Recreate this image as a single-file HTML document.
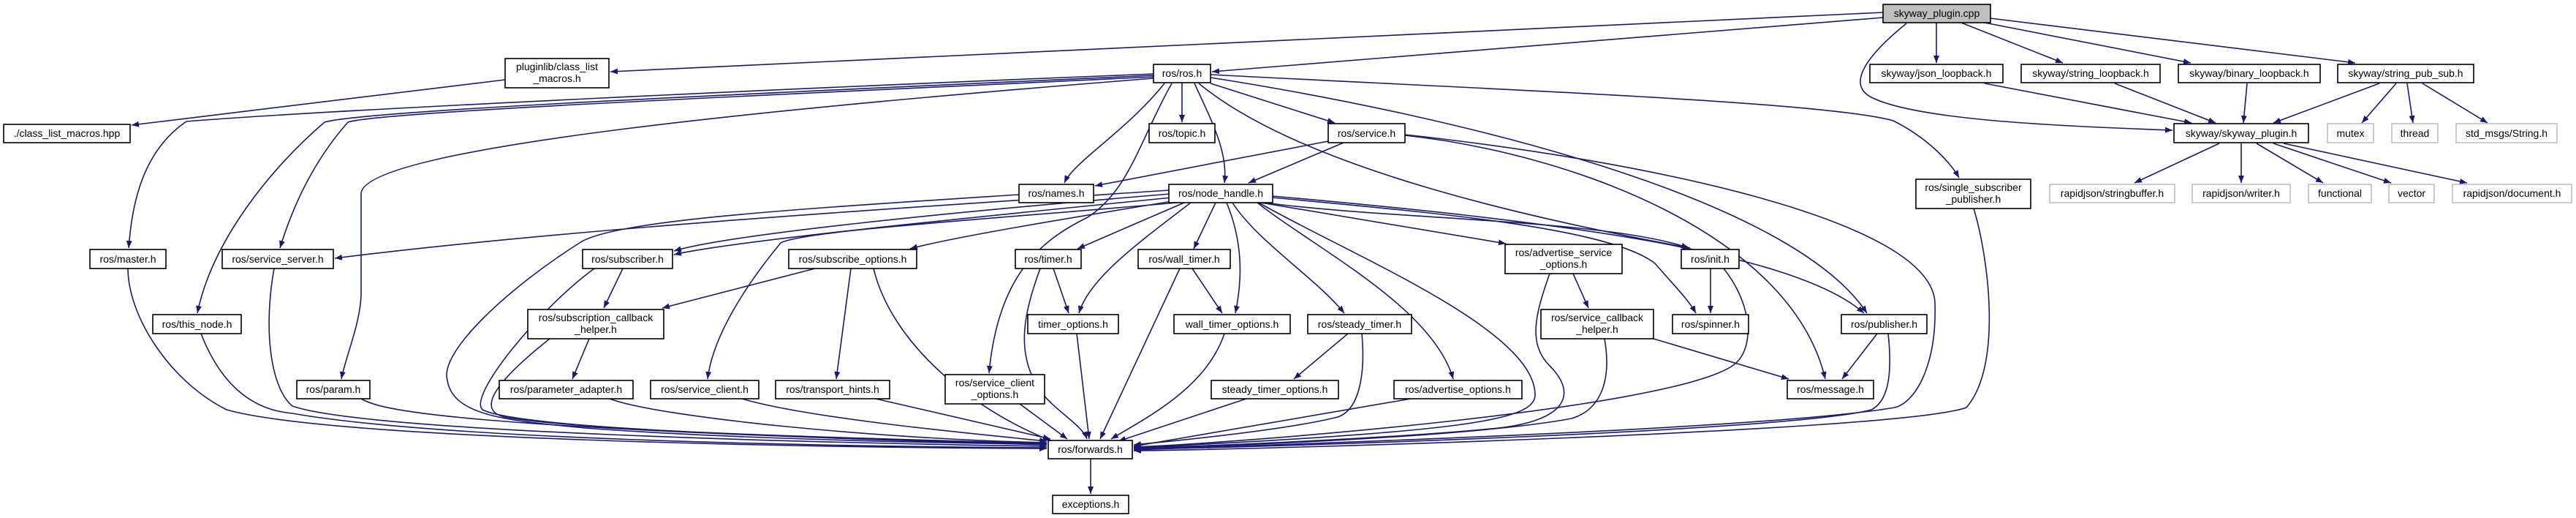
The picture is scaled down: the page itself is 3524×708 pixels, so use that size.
<!DOCTYPE html>
<html><head><meta charset="utf-8"><style>
html,body{margin:0;padding:0;background:#fff;}
svg{display:block;}
text{font-family:"Liberation Sans",sans-serif;font-size:14px;fill:#000;}
.e{fill:none;stroke:#191970;stroke-width:1.6;}
.n{fill:#fff;stroke:#000;stroke-width:1.6;}
.g{fill:#fff;stroke:#bfbfbf;stroke-width:1.6;}
.s{fill:#888;}
</style></head><body>
<svg width="3524" height="708" viewBox="0 0 3524 708" xmlns="http://www.w3.org/2000/svg">
<defs><marker id="a" viewBox="0 0 10 8" refX="10" refY="4" markerWidth="10" markerHeight="8" markerUnits="userSpaceOnUse" orient="auto"><path d="M0,0 L10,4 L0,8 z" fill="#191970"/></marker></defs>
<g marker-end="url(#a)">
<path class="e" d="M2576,17 L835,98"/>
<path class="e" d="M2576,24 L1658,98"/>
<path class="e" d="M2649,31 L2649,86"/>
<path class="e" d="M2683,31 L2822,86"/>
<path class="e" d="M2715,31 L2997,86"/>
<path class="e" d="M2723,25 L3222,86"/>
<path class="e" d="M2608,32 C2555,75 2525,115 2560,133 C2620,163 2800,172 2972,178"/>
<path class="e" d="M2715,114 L2998,168"/>
<path class="e" d="M2893,114 L3031,168"/>
<path class="e" d="M3074,114 L3069,168"/>
<path class="e" d="M3255,114 L3110,168"/>
<path class="e" d="M3278,114 L3231,168"/>
<path class="e" d="M3293,114 L3301,168"/>
<path class="e" d="M3314,114 L3403,168"/>
<path class="e" d="M3036,196 L2920,250"/>
<path class="e" d="M3066,196 L3066,250"/>
<path class="e" d="M3087,196 L3178,250"/>
<path class="e" d="M3110,196 L3271,250"/>
<path class="e" d="M3124,196 L3375,250"/>
<path class="e" d="M691,109 L180,171"/>
<path class="e" d="M1578,101 C1100,120 450,150 255,166 C190,210 180,290 176,339"/>
<path class="e" d="M1578,103 C1100,125 500,150 444,167 C370,230 290,330 270,428"/>
<path class="e" d="M1578,105 C1100,128 520,152 476,167 C420,230 395,300 383,339"/>
<path class="e" d="M1578,107 C1100,145 494,200 494,265 L494,400 C494,440 472,490 467,518"/>
<path class="e" d="M1617,113 L1617,167"/>
<path class="e" d="M1593,114 C1540,180 1470,220 1456,250"/>
<path class="e" d="M1634,114 C1660,170 1680,210 1675,250"/>
<path class="e" d="M1656,114 L1826,168"/>
<path class="e" d="M1603,114 C1560,190 1545,260 1488,297 C1420,330 1365,380 1353,510"/>
<path class="e" d="M1656,102 C2100,125 2500,140 2590,165 C2640,190 2670,225 2680,243"/>
<path class="e" d="M1656,106 C2000,160 2450,270 2554,428"/>
<path class="e" d="M1640,114 C1780,230 2100,300 2312,339"/>
<path class="e" d="M1817,193 L1498,254"/>
<path class="e" d="M1838,195 L1708,250"/>
<path class="e" d="M1922,185 C2150,210 2450,320 2497,518"/>
<path class="e" d="M1922,184 C2250,220 2640,300 2647,413 C2650,500 2620,550 2592,557 C2400,590 1600,612 1551,615"/>
<path class="e" d="M2700,285 C2720,350 2740,500 2690,557 C2600,590 1700,615 1551,616"/>
<path class="e" d="M2583,456 C2590,520 2580,550 2560,560 C2450,590 1700,612 1551,614"/>
<path class="e" d="M2568,456 L2520,518"/>
<path class="e" d="M1394,266 C1100,285 850,300 796,330 C700,390 600,480 612,520 C620,570 700,575 800,585 C1000,600 1300,606 1432,607"/>
<path class="e" d="M1599,260 C1300,280 800,310 458,353"/>
<path class="e" d="M1601,265 C1300,290 1000,320 922,343"/>
<path class="e" d="M1603,270 C1300,300 1000,330 922,348"/>
<path class="e" d="M1604,275 C1450,300 1300,325 1245,340"/>
<path class="e" d="M1610,277 C1350,300 1100,315 1068,332 C1020,390 975,460 968,518"/>
<path class="e" d="M1620,277 L1474,340"/>
<path class="e" d="M1629,277 C1560,330 1490,380 1476,428"/>
<path class="e" d="M1663,277 L1633,340"/>
<path class="e" d="M1678,277 C1700,330 1700,380 1690,428"/>
<path class="e" d="M1686,277 C1720,330 1800,380 1839,428"/>
<path class="e" d="M1720,277 C1800,340 1960,420 1988,518"/>
<path class="e" d="M1722,277 C1850,350 2100,450 2100,540 C2100,575 2000,590 1551,612"/>
<path class="e" d="M1725,277 L2060,333"/>
<path class="e" d="M1730,277 C1900,300 2200,300 2310,339"/>
<path class="e" d="M1741,270 C1950,290 2200,310 2264,360 C2290,390 2310,410 2320,428"/>
<path class="e" d="M1741,268 C2100,300 2450,340 2550,428"/>
<path class="e" d="M2262,463 L2447,518"/>
<path class="e" d="M2195,463 C2205,520 2190,560 2150,572 C2000,600 1600,612 1551,613"/>
<path class="e" d="M2152,374 L2173,421"/>
<path class="e" d="M2120,374 C2100,430 2090,470 2120,500 C2160,540 2140,575 2050,585 C1900,600 1600,612 1551,612"/>
<path class="e" d="M2340,367 L2340,428"/>
<path class="e" d="M2358,367 C2400,420 2400,480 2370,500 C2280,560 1700,605 1551,611"/>
<path class="e" d="M1441,367 L1462,428"/>
<path class="e" d="M1423,367 C1400,430 1390,480 1420,530 C1440,560 1480,580 1487,600"/>
<path class="e" d="M1473,456 L1490,600"/>
<path class="e" d="M1631,367 L1672,428"/>
<path class="e" d="M1614,367 L1505,600"/>
<path class="e" d="M1675,456 C1650,530 1570,570 1520,600"/>
<path class="e" d="M1844,456 L1770,518"/>
<path class="e" d="M1863,456 C1868,510 1860,560 1830,570 C1750,590 1580,605 1551,608"/>
<path class="e" d="M1705,545 L1530,603"/>
<path class="e" d="M1930,545 L1551,610"/>
<path class="e" d="M1395,552 L1460,600"/>
<path class="e" d="M1492,627 L1492,675"/>
<path class="e" d="M175,367 C175,430 230,520 310,560 C450,600 1100,612 1432,613"/>
<path class="e" d="M275,456 C300,520 340,560 400,565 C600,600 1100,610 1432,612"/>
<path class="e" d="M375,367 C360,450 370,530 400,555 C500,590 1100,605 1432,610"/>
<path class="e" d="M494,545 C520,560 600,585 1432,608"/>
<path class="e" d="M813,367 C740,420 640,540 660,560 C720,590 1200,600 1432,607"/>
<path class="e" d="M852,367 L826,421"/>
<path class="e" d="M1115,367 L906,421"/>
<path class="e" d="M1164,367 L1144,518"/>
<path class="e" d="M1195,367 C1220,470 1330,560 1437,602"/>
<path class="e" d="M806,463 L783,518"/>
<path class="e" d="M752,463 C680,520 650,560 690,570 C800,590 1200,600 1432,606"/>
<path class="e" d="M834,545 C900,570 1200,600 1432,605"/>
<path class="e" d="M1015,545 C1100,570 1300,590 1432,603"/>
<path class="e" d="M1198,545 L1437,600"/>
</g>
<g>
<rect x="2576" y="6" width="147" height="25" fill="#bfbfbf" stroke="#000" stroke-width="1.6"/><text x="2649.5" y="23" text-anchor="middle">skyway_plugin.cpp</text>
<rect class="n" x="691" y="80" width="142" height="40"/><text x="762" y="96" text-anchor="middle">pluginlib/class_list</text><text x="762" y="112" text-anchor="middle">_macros.h</text>
<rect class="n" x="5" y="170" width="173" height="25"/><text x="91.5" y="187" text-anchor="middle">./class_list_macros.hpp</text>
<rect class="n" x="1578" y="88" width="78" height="25"/><text x="1617" y="105" text-anchor="middle">ros/ros.h</text>
<rect class="n" x="1572" y="169" width="90" height="26"/><text x="1617" y="187" text-anchor="middle">ros/topic.h</text>
<rect class="n" x="1817" y="169" width="105" height="26"/><text x="1869.5" y="187" text-anchor="middle">ros/service.h</text>
<rect class="n" x="1394" y="252" width="102" height="25"/><text x="1445" y="269" text-anchor="middle">ros/names.h</text>
<rect class="n" x="1599" y="252" width="142" height="25"/><text x="1670" y="269" text-anchor="middle">ros/node_handle.h</text>
<rect class="n" x="2558" y="88" width="182" height="25"/><text x="2649" y="105" text-anchor="middle">skyway/json_loopback.h</text>
<rect class="n" x="2765" y="88" width="190" height="25"/><text x="2860" y="105" text-anchor="middle">skyway/string_loopback.h</text>
<rect class="n" x="2980" y="88" width="194" height="25"/><text x="3077" y="105" text-anchor="middle">skyway/binary_loopback.h</text>
<rect class="n" x="3198" y="88" width="186" height="25"/><text x="3291" y="105" text-anchor="middle">skyway/string_pub_sub.h</text>
<rect class="n" x="2974" y="169" width="184" height="26"/><text x="3066" y="187" text-anchor="middle">skyway/skyway_plugin.h</text>
<rect class="g" x="3184" y="169" width="63" height="26"/><text x="3215.5" y="187" text-anchor="middle">mutex</text>
<rect class="g" x="3272" y="169" width="63" height="26"/><text x="3303.5" y="187" text-anchor="middle">thread</text>
<rect class="g" x="3360" y="169" width="138" height="26"/><text x="3429" y="187" text-anchor="middle">std_msgs/String.h</text>
<rect class="g" x="2804" y="252" width="171" height="25"/><text x="2889.5" y="269" text-anchor="middle">rapidjson/stringbuffer.h</text>
<rect class="g" x="2999" y="252" width="134" height="25"/><text x="3066" y="269" text-anchor="middle">rapidjson/writer.h</text>
<rect class="g" x="3158" y="252" width="86" height="25"/><text x="3201" y="269" text-anchor="middle">functional</text>
<rect class="g" x="3268" y="252" width="62" height="25"/><text x="3299" y="269" text-anchor="middle">vector</text>
<rect class="g" x="3355" y="252" width="163" height="25"/><text x="3436.5" y="269" text-anchor="middle">rapidjson/document.h</text>
<rect class="n" x="2621" y="245" width="157" height="40"/><text x="2699.5" y="261" text-anchor="middle">ros/single_subscriber</text><text x="2699.5" y="277" text-anchor="middle">_publisher.h</text>
<rect class="n" x="123" y="341" width="104" height="26"/><text x="175" y="359" text-anchor="middle">ros/master.h</text>
<rect class="n" x="304" y="341" width="152" height="26"/><text x="380" y="359" text-anchor="middle">ros/service_server.h</text>
<rect class="n" x="797" y="341" width="123" height="26"/><text x="858.5" y="359" text-anchor="middle">ros/subscriber.h</text>
<rect class="n" x="1079" y="341" width="175" height="26"/><text x="1166.5" y="359" text-anchor="middle">ros/subscribe_options.h</text>
<rect class="n" x="1389" y="341" width="90" height="26"/><text x="1434" y="359" text-anchor="middle">ros/timer.h</text>
<rect class="n" x="1557" y="341" width="126" height="26"/><text x="1620" y="359" text-anchor="middle">ros/wall_timer.h</text>
<rect class="n" x="2059" y="334" width="160" height="40"/><text x="2139" y="350" text-anchor="middle">ros/advertise_service</text><text x="2139" y="366" text-anchor="middle">_options.h</text>
<rect class="n" x="2300" y="341" width="79" height="26"/><text x="2339.5" y="359" text-anchor="middle">ros/init.h</text>
<rect class="n" x="209" y="430" width="121" height="26"/><text x="269.5" y="448" text-anchor="middle">ros/this_node.h</text>
<rect class="n" x="722" y="423" width="186" height="40"/><text x="815" y="439" text-anchor="middle">ros/subscription_callback</text><text x="815" y="455" text-anchor="middle">_helper.h</text>
<rect class="n" x="1406" y="430" width="124" height="26"/><text x="1468" y="448" text-anchor="middle">timer_options.h</text>
<rect class="n" x="1606" y="430" width="159" height="26"/><text x="1685.5" y="448" text-anchor="middle">wall_timer_options.h</text>
<rect class="n" x="1789" y="430" width="142" height="26"/><text x="1860" y="448" text-anchor="middle">ros/steady_timer.h</text>
<rect class="n" x="2108" y="423" width="154" height="40"/><text x="2185" y="439" text-anchor="middle">ros/service_callback</text><text x="2185" y="455" text-anchor="middle">_helper.h</text>
<rect class="n" x="2288" y="430" width="104" height="26"/><text x="2340" y="448" text-anchor="middle">ros/spinner.h</text>
<rect class="n" x="2519" y="430" width="117" height="26"/><text x="2577.5" y="448" text-anchor="middle">ros/publisher.h</text>
<rect class="n" x="406" y="520" width="100" height="25"/><text x="456" y="537" text-anchor="middle">ros/param.h</text>
<rect class="n" x="683" y="520" width="183" height="25"/><text x="774.5" y="537" text-anchor="middle">ros/parameter_adapter.h</text>
<rect class="n" x="890" y="520" width="148" height="25"/><text x="964" y="537" text-anchor="middle">ros/service_client.h</text>
<rect class="n" x="1061" y="520" width="156" height="25"/><text x="1139" y="537" text-anchor="middle">ros/transport_hints.h</text>
<rect class="n" x="1293" y="512" width="136" height="40"/><text x="1361" y="528" text-anchor="middle">ros/service_client</text><text x="1361" y="544" text-anchor="middle">_options.h</text>
<rect class="n" x="1657" y="520" width="174" height="25"/><text x="1744" y="537" text-anchor="middle">steady_timer_options.h</text>
<rect class="n" x="1907" y="520" width="175" height="25"/><text x="1994.5" y="537" text-anchor="middle">ros/advertise_options.h</text>
<rect class="n" x="2445" y="520" width="118" height="25"/><text x="2504" y="537" text-anchor="middle">ros/message.h</text>
<rect class="n" x="1434" y="602" width="115" height="25"/><text x="1491.5" y="619" text-anchor="middle">ros/forwards.h</text>
<rect class="n" x="1440" y="677" width="104" height="25"/><text x="1492" y="694" text-anchor="middle">exceptions.h</text>
</g>
</svg>
</body></html>
